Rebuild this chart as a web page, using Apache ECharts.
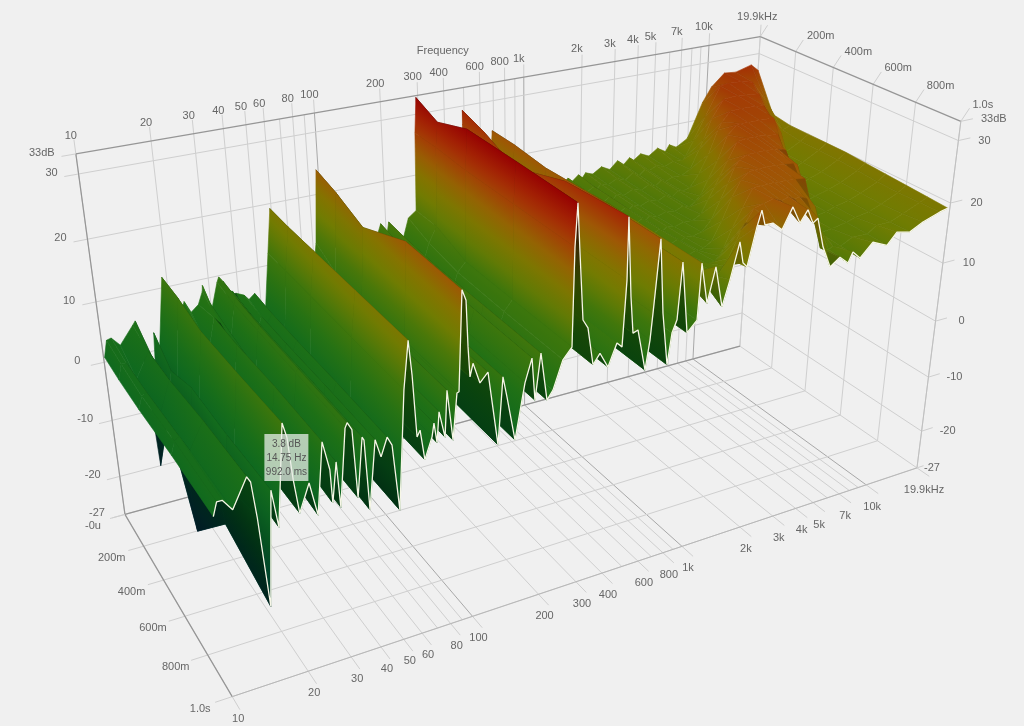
<!DOCTYPE html>
<html><head><meta charset="utf-8"><style>html,body{margin:0;background:#f0f0f0}#c{width:1024px;height:726px}</style>
<script src="https://cdn.jsdelivr.net/npm/echarts@6/dist/echarts.min.js"></script></head><body><div id="c"></div>
<script>
// Below about 1 kHz: five time slices
const lowHz=[10.1,10.5,11,11.9,13.7,14.1,14.5,15.2,16.6,17.3,19.1,19.7,20.2,20.9,23.1,24.5,26.5,27.9,28.1,29.6,30.1,32.6,33.3,34.6,35.3,37.7,38.3,39.1,42.3,44.3,47.2,49.2,51.5,56,59.2,60.6,62.1,64,66.3,71.4,73,74.7,76.8,80.7,83.2,87,91.3,93.1,97.8,101.3,102.3,103.6,106.9,113.8,123.1,134.5,142.2,147.6,159.4,176.4,189.2,194.9,206.8,220,233.7,258,282.3,287.2,294.1,302.1,314.5,331.4,351.4,377.1,411.4,449.4,474.4,489.9,490.6,513.5,530.7,559.2,612,638.5,652.3,689,726.6,777.4,808.9,849.1,880.6,954.8,1060,1075,1084];
const lowTimes=[0,0.15,0.35,0.65,0.992];
const low0=[0.8,3.5,3.7,2.2,5,5.6,3,-20,3,0.3,11.7,10,6,3,7,5,6,8,9,6,4.6,9,9.8,9,7,7,6.5,6.5,5.9,5,5.8,4,1.2,12,19.2,15,8,7,5,5,6,5,7.5,6,11,6,10,12,24,23,18,13,14,11,12,4,11,8,5,10,13,8,13,8,8,13,14,27,32.7,26,16,14.5,9,10,8,11,14,27,29.3,18,12,12,9,11,14,25,14,9,11,13,20,12,13,14,14];
const low1=[0.5,3,3,0,4,3,-2,-8,0,-3,11.5,9,4,0,5,2,7,6,5,5,1,8.5,9.5,8.5,3,6.5,6,2,5.5,4,5.5,4,-3,12,19,14,6,6,3,4,6,4,7.5,5,10.5,4,9.6,10,23,22,17,12,13.5,10.5,11.5,2,10.5,7.5,2,9,12,6.5,12.5,6,7,11.5,14,27,31,25.5,15.6,14.2,8.5,9.8,7.5,10.8,11,24,28,17.5,11.8,12,7,10,14,25,13.8,7,10.5,12,20,10,12,15,17];
const low2=[0.5,2.5,3,-2,4,3,-6,-22,2,-4,10.5,9,3,-2,3,-1,7,4,0,4,-2,8.5,9.2,8,-1,6.5,6,-3,5.5,3,5.5,4.3,-5,12,19,14,5,5.5,1,4,6,3,7.4,4,10.3,3,9.5,9.7,21,20,16,11.5,13.3,10.2,11.4,0.5,10.2,7,0.5,8.5,11.8,5.5,12.2,5,6.2,10.5,12,26.7,33,25.7,15.6,14.2,8.3,9.8,7.3,10.7,10,21,25.5,17.3,11.6,11.9,5.5,9.8,13.9,24.5,13.5,5.5,10,11.9,20,9.5,11,16,19.5];
const low3=[1,3,3.5,1,5,4,-3,-12,2,-3,11,9.5,3.5,-2,3,-2,7.5,3.5,-1,4,-2.5,8.7,9.3,8,-2,6.7,6.2,-4,5.7,3,5.7,4.3,-6,12,19,14,4.5,5.4,0.7,3.9,5.9,3,7.4,3.5,10.3,2.6,9.5,9.6,24.5,22.7,16,11.4,13.3,10.1,11.4,0,10.1,6.9,0,8.3,11.8,5.2,12.2,4.7,6,10.3,11.9,26.7,33,25.7,15.6,14.2,8.3,9.8,7.3,10.7,9.9,20,28.5,17.3,11.6,11.9,5.2,9.8,13.9,25,13.5,5.1,10,11.9,20.7,9.4,11,16.2,19.8];
const low4=[1.1,3.1,3.1,1.3,5.5,4.6,-0.8,-15,2.6,-3.2,11.8,9.6,3.2,-2,2.1,-3.1,7.6,3.2,-1.9,4.1,-2.9,8.7,9.4,8.2,-2.2,6.7,6.2,-4.6,5.8,3,5.7,4.3,-6,12,19,13.9,4.5,5.4,0.7,3.9,5.9,2.8,7.4,3.3,10.3,2.5,9.5,9.6,24.3,22.7,15.9,11.4,13.3,10.1,11.4,-0.2,10.1,6.9,-0.2,8.3,11.8,5.2,12.2,4.7,6,10.3,11.9,26.7,32.9,25.7,15.6,14.2,8.3,9.8,7.3,10.7,9.9,20,29.3,17.3,11.6,11.9,5.2,9.8,13.9,25,13.5,5.1,10,11.9,20.7,9.4,11,16.2,19.8];
// Above about 1 kHz: eleven time slices
const highHz=[1084,1173,1268,1392,1497,1631,1713,1798,1954,2041,2137,2338,2610,2904,3199,3471,3730,3938,4312,4800,5365,5965,6263,6886,7942,9524,10627,12565,14654,18029,19911];
const highTimes=[0,0.1,0.2,0.3,0.4,0.5,0.6,0.7,0.8,0.9,0.992];
const high0=[14,13.2,14.3,13.4,14.4,13.5,14.2,13.4,14.4,13.6,14.5,14,15,14.2,15.5,14.6,15.6,15,15.9,15.2,16.3,15.4,16.5,15.8,17,23,25.5,27.6,27.4,28.2,27];
const high1=[16,13,14,13.2,14.1,13.3,14,13.3,14,13.5,14.2,13.8,14.6,14,15,14.4,15.2,14.8,15.4,15,15.6,15.4,16,18.5,22.5,27.4,27.6,27.5,27,23,20.5];
const high2=[18,13,13.8,13.1,14,13.2,13.9,13.2,14,13.4,14.1,13.7,14.4,13.9,14.7,14.2,15,14.6,15.1,15,15.8,19,20.5,24,27,27.2,27,26.8,23,19.5,20];
const high3=[19,13,13.7,13.1,13.9,13.2,13.8,13.2,13.9,13.4,14,13.6,14.2,13.8,14.5,14,14.8,14.6,14.9,17,20,24,25.2,26.8,26.9,26.8,26.6,22,17.5,19,20];
const high4=[19.6,13,13.6,13,13.8,13.2,13.8,13.2,13.8,13.4,14,13.6,14.1,13.8,14.4,14,14.7,15.5,18,21,25,26.4,26.5,26.4,26.4,26.3,23.5,16.5,17.5,19,20];
const high5=[19.8,13,13.6,13.1,13.8,13.2,13.8,13.3,13.9,13.5,14,13.7,14.2,14,14.8,17,19,20.5,23,25.8,26,26,26,25.8,25.6,19,16,16.8,17.5,19,20];
const high6=[19.8,13.2,13.7,13.2,13.8,13.4,13.9,13.5,14,13.6,14.1,14,14.3,16,19,21.5,24,25,25.6,25.6,25.6,25.5,25.4,25,20,15.5,16,16.6,17.4,18.8,19.8];
const high7=[19.8,13.4,13.9,13.5,14,13.6,14,13.7,14.1,13.9,14.2,15,18,21.5,24,25,25.2,25.2,25.2,25.2,25,24.8,24.5,19.5,15,15.5,16,16.5,17.3,18.6,19.6];
const high8=[19.8,14,14.6,14.3,14.7,14.4,14.5,14.2,14.3,15,16,19,22,24.8,24.8,24.8,24.9,24.8,24.8,24.6,24.4,19.5,17,14.8,15,15.5,16,16.4,17.2,18.5,19.4];
const high9=[19.8,14.5,16,14,15,15,16,17,19.5,21,22,24,24.4,24.8,24.2,24.6,24,24.2,23.6,22,15,14.4,14.8,14.5,15.5,15.4,16.5,16.5,17.4,18.6,19.2];
const high10=[19.8,13.3,18.7,12.1,16.1,21.7,18.3,17.5,23.4,25.8,23.4,23.4,22,25.2,22.4,24.2,21.9,22.5,17.7,14.1,15.3,14,15.6,14.3,16.4,15.3,17.1,16.6,17.7,18.7,19];
const gridHz=[10,20,30,40,50,60,70,80,90,100,200,300,400,500,600,700,800,900,1000,2000,3000,4000,5000,6000,7000,8000,9000,10000,19900];
const majorHz=[100,1000,10000];
const hzLabels={10:'10',20:'20',30:'30',40:'40',50:'50',60:'60',80:'80',100:'100',200:'200',300:'300',400:'400',600:'600',800:'800',1000:'1k',2000:'2k',3000:'3k',4000:'4k',5000:'5k',7000:'7k',10000:'10k',19900:'19.9kHz'};
const dbTicks=[30,20,10,0,-10,-20];
const timeTicks=[0,0.2,0.4,0.6,0.8,1];
const timeLabels=['-0u','200m','400m','600m','800m','1.0s'];
const cursor={db:3.8,hz:14.75,ms:992.0};
const dbMin=-27,dbMax=33,hzMin=10,hzMax=19900,tMax=1;
const colorScale=[[-27,[0,26,58]],[-20,[0,52,62]],[-12,[0,66,46]],[-6,[6,82,32]],[0,[14,104,32]],[6,[30,112,22]],[12,[62,118,12]],[17,[112,124,2]],[21,[135,114,0]],[25,[160,84,5]],[29,[165,40,5]],[33,[150,2,2]]];
const boxCorners=[[0,0,0,125,514],[0,1,0,232,697],[1,1,0,917,467],[1,0,0,740,347],[0,0,1,76,154],[1,0,1,760,36],[1,1,1,961,122]];

const meshes=[{hz:highHz,t:highTimes,rows:[high0,high1,high2,high3,high4,high5,high6,high7,high8,high9,high10],streak:true},{hz:lowHz,t:lowTimes,rows:[low0,low1,low2,low3,low4],streak:false}];
function solve(A,b){const n=b.length;A=A.map((r,i)=>[...r,b[i]]);for(let i=0;i<n;i++){let p=i;for(let j=i;j<n;j++)if(Math.abs(A[j][i])>Math.abs(A[p][i]))p=j;[A[i],A[p]]=[A[p],A[i]];for(let j=0;j<n;j++)if(j!==i){const f=A[j][i]/A[i][i];for(let k=i;k<=n;k++)A[j][k]-=f*A[i][k];}}return A.map((r,i)=>r[n]/r[i]);}
const rows=[],rhs=[];boxCorners.forEach(([u,v,w,x,y])=>{rows.push([u,v,w,1,0,0,0,0,-x*u,-x*v,-x*w]);rhs.push(x);rows.push([0,0,0,0,u,v,w,1,-y*u,-y*v,-y*w]);rhs.push(y);});
const ATA=Array.from({length:11},()=>Array(11).fill(0)),ATb=Array(11).fill(0);
rows.forEach((r,i)=>{for(let a=0;a<11;a++){ATb[a]+=r[a]*rhs[i];for(let b=0;b<11;b++)ATA[a][b]+=r[a]*r[b];}});
const p=solve(ATA,ATb);
const U=f=>Math.log(f/hzMin)/Math.log(hzMax/hzMin),WW=d=>(d-dbMin)/(dbMax-dbMin);
function uvw(u,v,w){const d=p[8]*u+p[9]*v+p[10]*w+1;return[(p[0]*u+p[1]*v+p[2]*w+p[3])/d,(p[4]*u+p[5]*v+p[6]*w+p[7])/d];}
const proj=(f,t,db)=>uvw(U(f),t/tMax,WW(db));
function colorAt(d){const c=colorScale;if(d<=c[0][0])return c[0][1];for(let i=1;i<c.length;i++)if(d<=c[i][0]){const a=(d-c[i-1][0])/(c[i][0]-c[i-1][0]);return c[i-1][1].map((x,k)=>x+(c[i][1][k]-x)*a);}return c[c.length-1][1];}
const css=(c,s)=>'rgb('+c.map((x,k)=>Math.round(Math.min(255,x*s[k]))).join(',')+')';
const frontLight=[1,1,1],backDark=[0.35,0.6,0.6],backHigh=[0.82,0.82,0.82];

// painter's order: far (high frequency, early time) first
const quads=[];meshes.forEach((m,k)=>{for(let i=m.hz.length-2;i>=0;i--)for(let j=0;j<m.t.length-1;j++)quads.push([k,i,j]);});
function renderQuad(params,api){
 const [k0,i,j]=quads[params.dataIndex];const m=meshes[k0];
 const vs=[[i,j],[i+1,j],[i+1,j+1],[i,j+1]];
 const pts=vs.map(([a,b])=>api.coord(proj(m.hz[a],m.t[b],m.rows[b][a])));
 const ds=vs.map(([a,b])=>m.rows[b][a]);
 let area=0;pts.forEach((q,k)=>{const r=pts[(k+1)%4];area+=q[0]*r[1]-r[0]*q[1];});
 const shade=area<0?(m.streak?backHigh:backDark):frontLight;
 const mx=pts.reduce((s,q)=>s+q[0],0)/4,my=pts.reduce((s,q)=>s+q[1],0)/4,md=ds.reduce((s,q)=>s+q,0)/4;
 let sxx=0,sxy=0,syy=0,sxd=0,syd=0;pts.forEach((q,k)=>{const x=q[0]-mx,y=q[1]-my,d=ds[k]-md;sxx+=x*x;sxy+=x*y;syy+=y*y;sxd+=x*d;syd+=y*d;});
 const det=sxx*syy-sxy*sxy;let gx=0,gy=0;
 if(Math.abs(det)>1e-3){gx=(sxd*syy-syd*sxy)/det;gy=(syd*sxx-sxd*sxy)/det;}
 else if(sxx+syy>0){gx=sxd/(sxx+syy);gy=syd/(sxx+syy);}
 const g2=gx*gx+gy*gy,dmin=Math.min(...ds),dmax=Math.max(...ds);
 let fill;
 if(g2<1e-6||dmax-dmin<0.3){fill=css(colorAt(md),shade);}
 else{const a0=(dmin-md)/g2,a1=(dmax-md)/g2;const stops=[];for(let s=0;s<=4;s++)stops.push({offset:s/4,color:css(colorAt(dmin+(dmax-dmin)*s/4),shade)});
  fill=new echarts.graphic.LinearGradient(mx+gx*a0,my+gy*a0,mx+gx*a1,my+gy*a1,stops,true);}
 const poly={type:'polygon',silent:true,shape:{points:pts},style:{fill:fill,stroke:fill,lineWidth:0.6}};
 if(!m.streak)return poly;
 return{type:'group',silent:true,children:[poly,{type:'line',silent:true,shape:{x1:pts[0][0],y1:pts[0][1],x2:pts[3][0],y2:pts[3][1]},style:{stroke:'rgba(30,40,0,0.2)',lineWidth:0.7}}]};
}
const lines=[];
const L='#cfcfcf',M='#a8a8a8',E='#969696';
gridHz.forEach(h=>{const u=U(h),c=majorHz.includes(h)?M:L;
 lines.push([u,0,0,u,0,1,c,1],[u,0,0,u,1,0,c,1]);
 if(hzLabels[h]){lines.push([u,0,1,u,0,1.035,L,1],[u,1,0,u,1.06,0,L,1]);}});
dbTicks.forEach(d=>{const w=WW(d);lines.push([0,0,w,1,0,w,L,1],[1,0,w,1,1,w,L,1],[-0.017,0,w,0,0,w,L,1],[1,1,w,1.02,1,w,L,1]);});
timeTicks.forEach(t=>{lines.push([0,t,0,1,t,0,L,1],[1,t,0,1,t,1,L,1],[-0.02,t,0,0,t,0,L,1],[1,t,1,1.012,t,1.03,L,1]);});
lines.push([0,0,0,0,0,1,E,1.2],[0,0,1,1,0,1,E,1.2],[1,0,1,1,1,1,E,1.2],[0,0,0,0,1,0,E,1.2],[0,0,0,1,0,0,E,1.2],[0,1,0,1,1,0,'#b8b8b8',1],[1,1,0,1,1,1,'#c0c0c0',1],[-0.017,0,1,0,0,1,L,1],[1,1,1,1.02,1,1,L,1],[-0.017,0,0,0,0,0,L,1],[1,1,0,1.012,1,0,L,1]);

const texts=[];
gridHz.forEach(h=>{if(!hzLabels[h])return;const u=U(h);texts.push([hzLabels[h],u,0,1,h===19900?-3:-5,h===19900?-20:-18],[hzLabels[h],u,1,0,h===19900?7:6,22]);});
timeTicks.forEach((t,k)=>{texts.push([timeLabels[k],0,t,0,-32,12]);if(k>0)texts.push([timeLabels[k],1,t,1,k===5?22:25,-16]);});
dbTicks.forEach(d=>{const w=WW(d);texts.push([String(d),0,0,w,-27,-1],[String(d),1,1,w,26,0]);});
texts.push(['33dB',0,0,1,-34,-1],['33dB',1,1,1,33,-2],['-27',0,0,0,-28,-1],['-27',1,1,0,15,0],['Frequency',0.505,0,1,-14,-38]);

const whiteHz=lowHz.concat(highHz.slice(1)),whiteDb=low4.concat(high10.slice(1));
const cur=proj(cursor.hz,0.992,cursor.db);
const font='11px "Liberation Sans",Arial,sans-serif';
const option={animation:false,backgroundColor:'#f0f0f0',
 grid:{left:0,right:0,top:0,bottom:0},
 xAxis:{type:'value',min:0,max:1024,show:false},yAxis:{type:'value',min:0,max:726,inverse:true,show:false},
 tooltip:{show:false},
 series:[
 {type:'custom',coordinateSystem:'cartesian2d',silent:true,clip:false,z:1,data:lines.map((l,i)=>[i]),progressive:0,encode:{x:0,y:0},
  renderItem(params,api){const l=lines[params.dataIndex];const a=api.coord(uvw(l[0],l[1],l[2])),b=api.coord(uvw(l[3],l[4],l[5]));return{type:'line',silent:true,shape:{x1:a[0],y1:a[1],x2:b[0],y2:b[1]},style:{stroke:l[6],lineWidth:l[7]}};}},
 {type:'custom',coordinateSystem:'cartesian2d',silent:true,clip:false,z:2,data:quads.map((q,i)=>[i]),progressive:0,encode:{x:0,y:0},renderItem:renderQuad},
 {type:'line',silent:true,z:3,symbol:'none',clip:false,lineStyle:{color:'#f6f6e6',width:1.3},data:whiteHz.map((f,i)=>proj(f,0.992,whiteDb[i]))},
 {type:'custom',coordinateSystem:'cartesian2d',silent:true,clip:false,z:4,data:texts.map((t,i)=>[i]),progressive:0,encode:{x:0,y:0},
  renderItem(params,api){const t=texts[params.dataIndex];const a=api.coord(uvw(t[1],t[2],t[3]));return{type:'text',silent:true,style:{text:t[0],x:a[0]+t[4],y:a[1]+t[5],fill:'#666',font:font,align:'center',verticalAlign:'middle'}};}},
 {type:'custom',coordinateSystem:'cartesian2d',silent:true,clip:false,z:5,data:[[0]],encode:{x:0,y:0},
  renderItem(params,api){const a=api.coord(cur);const x=a[0]+8,y=a[1]-52;const lns=[cursor.db.toFixed(1)+' dB',cursor.hz.toFixed(2)+' Hz',cursor.ms.toFixed(1)+' ms'];
   return{type:'group',silent:true,children:[{type:'rect',shape:{x:x,y:y,width:44,height:47},style:{fill:'rgba(232,238,232,0.75)'}}].concat(lns.map((s,k)=>({type:'text',style:{text:s,x:x+22,y:y+10+k*14,fill:'#555',font:'10px "Liberation Sans",Arial,sans-serif',align:'center',verticalAlign:'middle'}})))};}}
 ]};
const chart=echarts.init(document.getElementById('c'),null,{renderer:'canvas'});
chart.setOption(option);
</script></body></html>
